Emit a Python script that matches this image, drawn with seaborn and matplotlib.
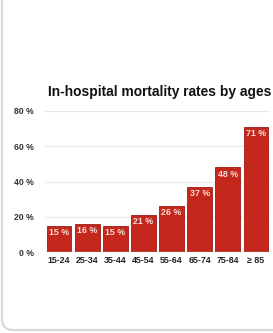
import matplotlib
matplotlib.use("Agg")
import matplotlib.pyplot as plt
from matplotlib.patches import PathPatch
from matplotlib.path import Path
import seaborn as sns
import pandas as pd

ages = ["15-24", "25-34", "35-44", "45-54", "55-64", "65-74", "75-84", "\u2265 85"]
rates = [15, 16, 15, 21, 26, 37, 48, 71]
yticks = [0, 20, 40, 60, 80]
title = "In-hospital mortality rates by ages"

sns.set_theme(style="white")
plt.rcParams["font.family"] = ["Liberation Sans", "DejaVu Sans"]

W, H = 273, 333
fig = plt.figure(figsize=(W / 100, H / 100), dpi=100)
fig.patch.set_facecolor("white")

# card border on the left with rounded bottom corner (pixel coords -> figure coords)
pts = [(2, H), (2, 14), (2, 3), (13, 3), (W, 3)]
codes = [Path.MOVETO, Path.LINETO, Path.CURVE3, Path.CURVE3, Path.LINETO]
card = PathPatch(Path([(x / W, y / H) for x, y in pts], codes), transform=fig.transFigure,
                 facecolor="none", edgecolor="#d5dada", linewidth=1.6, zorder=-1)
fig.patches.append(card)

ax = fig.add_axes([45 / W, 81 / H, 225 / W, 141 / H])
ax.set_facecolor("none")
df = pd.DataFrame({"age": ages, "rate": rates})
sns.barplot(data=df, x="age", y="rate", color="#c4281c", saturation=1, width=0.88,
            edgecolor="#9e1a12", linewidth=0.6, ax=ax, zorder=3)

ax.set_ylim(0, 80)
ax.set_xlim(-0.5, 7.5)
ax.set_yticks(yticks)
ax.set_yticklabels([f"{v} %" for v in yticks], fontsize=6.2, fontweight="bold", color="#333333")
ax.tick_params(axis="x", labelsize=6.4, length=0, pad=3, labelcolor="#222222")
ax.tick_params(axis="y", length=0, pad=8)
for lbl in ax.get_xticklabels():
    lbl.set_fontweight("bold")
ax.set_xlabel("")
ax.set_ylabel("")
for y in yticks[1:]:
    ax.axhline(y, color="#e8e8e8", linewidth=0.8, zorder=1)
ax.axhline(0, color="#999999", linewidth=1.0, zorder=4)
for s in ax.spines.values():
    s.set_visible(False)

for i, v in enumerate(rates):
    ax.text(i, v - 1.3, f"{v} %", ha="center", va="top", fontsize=6.4, fontweight="bold",
            color="#f5dcd8", zorder=5)

fig.text(48 / W, (H - 92) / H, title, ha="left", va="center", fontsize=9.9,
         fontweight="bold", color="#111111")

fig.savefig("out.png", dpi=100, facecolor="white")
